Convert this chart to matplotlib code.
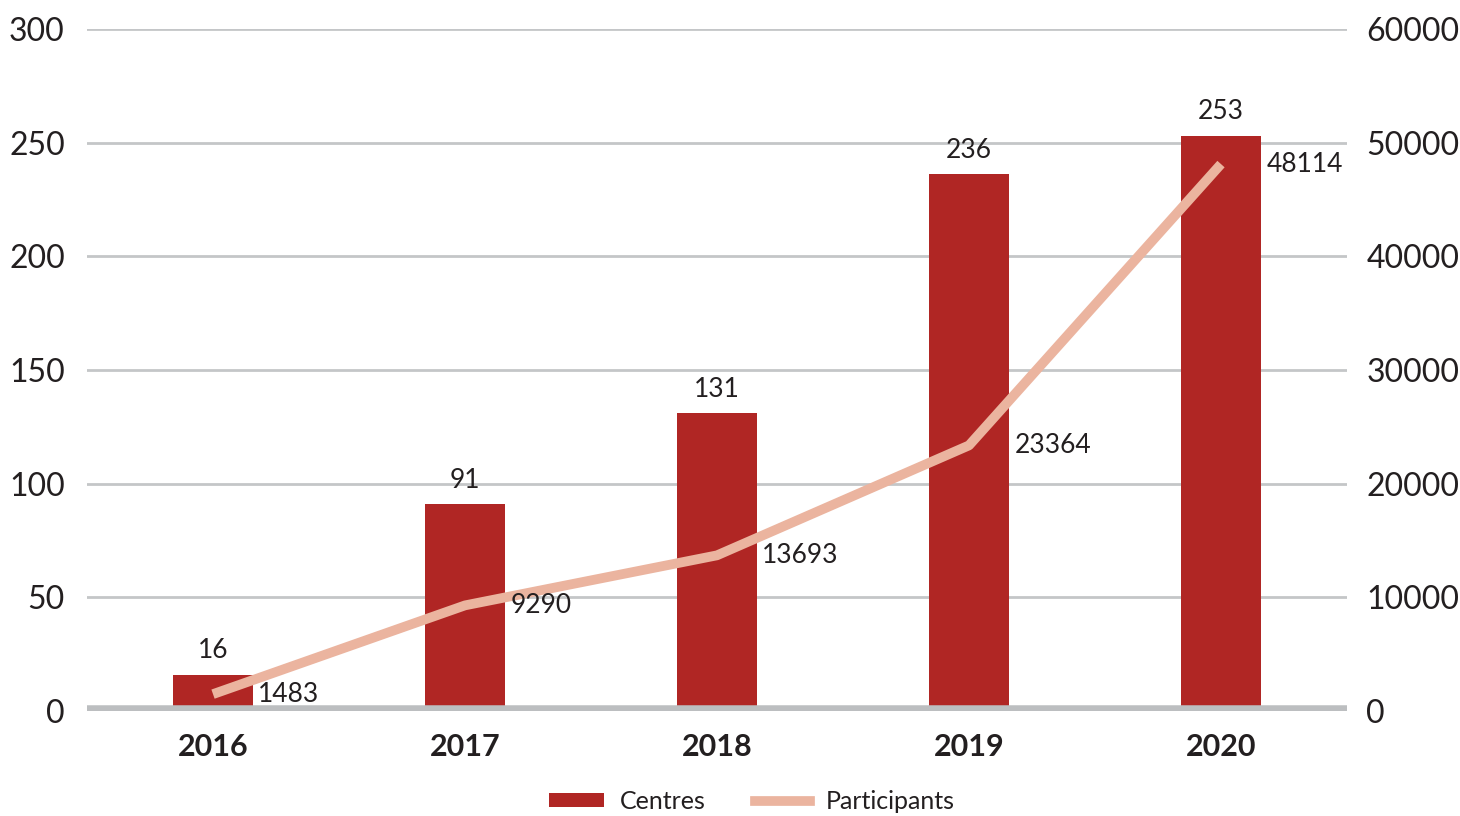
import matplotlib
matplotlib.use("Agg")
import matplotlib.pyplot as plt
from matplotlib.patches import Patch
from matplotlib.lines import Line2D

plt.rcParams['font.family'] = ['Lato', 'DejaVu Sans']

years = ['2016', '2017', '2018', '2019', '2020']
centres = [16, 91, 131, 236, 253]
participants = [1483, 9290, 13693, 23364, 48114]
left_ticks = [0, 50, 100, 150, 200, 250, 300]
right_ticks = [0, 10000, 20000, 30000, 40000, 50000, 60000]

bar_color = '#B02624'
line_color = '#EBB49F'
grid_color = '#C4C6C8'
text_color = '#231F20'

fig = plt.figure(figsize=(14.6, 8.16), dpi=100)
ax = fig.add_axes([0.0596, 0.1287, 0.863, 0.8358])
ax2 = ax.twinx()

x = list(range(len(years)))
ax.bar(x, centres, width=0.32, color=bar_color, zorder=2)
ax.set_ylim(0, 300)
ax.set_xlim(-0.5, 4.5)
ax.set_yticks(left_ticks)
ax.set_yticklabels([str(t) for t in left_ticks])
for t in left_ticks[1:]:
    ax.axhline(t, color=grid_color, lw=2, zorder=0)
ax.axhline(0, color='#BCBEC0', lw=9, zorder=3)

ax.set_xticks(x)
ax.set_xticklabels(years, fontsize=22, fontweight='bold', color=text_color)
ax.tick_params(axis='x', length=0, pad=16)
ax.tick_params(axis='y', length=0, labelsize=23, labelcolor=text_color, pad=16)
for s in ax.spines.values():
    s.set_visible(False)
for s in ax2.spines.values():
    s.set_visible(False)

for xi, v in zip(x, centres):
    ax.text(xi, v + 5, str(v), ha='center', va='bottom', fontsize=19, color=text_color)

ax2.plot(x, participants, color=line_color, lw=7, solid_capstyle='butt', zorder=3)
ax2.set_ylim(0, 60000)
ax2.set_yticks(right_ticks)
ax2.set_yticklabels([str(t) for t in right_ticks])
ax2.tick_params(axis='y', length=0, labelsize=23, labelcolor=text_color, pad=14)
for xi, v in zip(x, participants):
    ax2.text(xi + 0.18, v, str(v), ha='left', va='center', fontsize=19, color=text_color)

handles = [Patch(facecolor=bar_color), Line2D([0], [0], color=line_color, lw=7)]
fig.legend(handles, ['Centres', 'Participants'], loc='center', bbox_to_anchor=(0.515, 0.018),
           ncol=2, frameon=False, fontsize=18, handlelength=2.2, handleheight=0.5,
           handletextpad=0.6, columnspacing=2.0, labelcolor=text_color)

fig.savefig('out.png', dpi=100)
